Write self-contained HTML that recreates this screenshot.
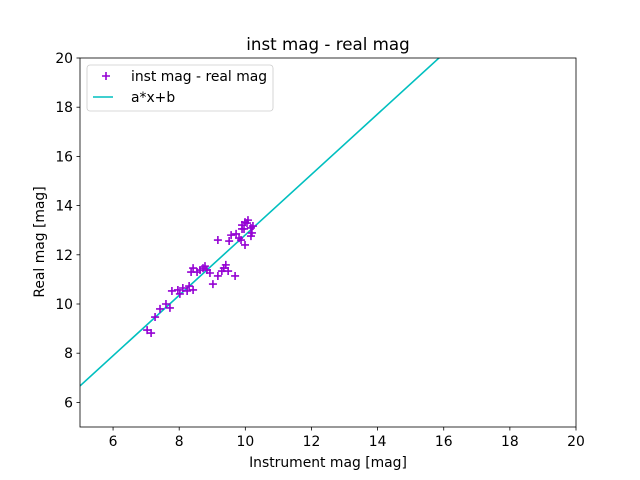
<!DOCTYPE html>
<html><head><meta charset="utf-8"><style>
body{margin:0;background:#fff;}
svg{display:block;font-family:"DejaVu Sans","Liberation Sans",sans-serif;}
</style></head><body>
<svg id="c" width="640" height="480" viewBox="0 0 640 480">
<rect width="640" height="480" fill="#fff"/>
<text x="328" y="50" text-anchor="middle" font-size="16.7">inst mag - real mag</text>
<defs><clipPath id="clip"><rect x="80" y="58" width="496" height="369"/></clipPath></defs>
<g id="marks" clip-path="url(#clip)"></g>
<g id="axes"></g>
<rect x="80" y="58" width="496" height="369" fill="none" stroke="#000" stroke-width="0.8"/>
<text x="328" y="467" text-anchor="middle" font-size="13.9">Instrument mag [mag]</text>
<text transform="translate(44,242) rotate(-90)" text-anchor="middle" font-size="13.9">Real mag [mag]</text>
<g>
<rect x="87" y="65" width="186" height="46" rx="3" fill="#fff" fill-opacity="0.8" stroke="#ccc" stroke-width="0.8"/>
<g>
<path d="M102,76h8M106,72v8" stroke="#9400d3" stroke-width="1.6"/>
<text x="131" y="81" font-size="13.9">inst mag - real mag</text></g>
<g>
<path d="M93,97h20" stroke="#00bfbf" stroke-width="1.6"/>
<text x="131" y="102" font-size="13.9">a*x+b</text></g>
</g>
</svg>
<script>
const xs=[7.03,7.15,7.27,7.42,7.60,7.72,7.78,7.96,8.02,8.11,8.24,8.30,8.42,8.36,8.42,8.54,8.63,8.72,8.78,8.93,8.84,9.02,9.17,9.29,9.35,9.41,9.48,9.69,9.17,9.51,9.57,9.72,9.81,9.87,9.90,9.90,9.96,9.99,10.05,9.99,10.08,10.17,10.23,10.20,10.17];
const ys=[8.94,8.82,9.47,9.80,10.00,9.84,10.53,10.57,10.41,10.65,10.53,10.73,10.57,11.30,11.46,11.30,11.38,11.46,11.54,11.26,11.38,10.81,11.14,11.34,11.46,11.59,11.34,11.14,12.60,12.56,12.80,12.85,12.68,12.60,13.05,13.21,13.05,13.33,13.29,12.40,13.41,13.09,13.17,12.89,12.76];
const fitA=1.228, fitB=0.53;
const xTicks=[6,8,10,12,14,16,18,20];
const yTicks=[6,8,10,12,14,16,18,20];
const NS="http://www.w3.org/2000/svg";
const X=v=>80+(v-5)*496/15, Y=v=>427-(v-5)*369/15;
const marks=document.getElementById('marks'), axes=document.getElementById('axes');
function mk(t,a,p){const e=document.createElementNS(NS,t);for(const k in a)e.setAttribute(k,a[k]);p.appendChild(e);return e;}
const line=mk('line',{x1:X(5),y1:Y(fitA*5+fitB),x2:X(20),y2:Y(fitA*20+fitB),stroke:'#00bfbf','stroke-width':1.6},marks);


xs.forEach((x,i)=>{const px=X(x),py=Y(ys[i]);
const p=mk('path',{d:`M${px-4},${py}h8M${px},${py-4}v8`,stroke:'#9400d3','stroke-width':1.6},marks);

});
xTicks.forEach(t=>{const g=mk('g',{},axes);


mk('line',{x1:X(t),x2:X(t),y1:427,y2:430.5,stroke:'#000','stroke-width':0.8},g);
const tx=mk('text',{x:X(t),y:446,'text-anchor':'middle','font-size':13.9},g);tx.textContent=t;});
yTicks.forEach(t=>{const g=mk('g',{},axes);


mk('line',{x1:76.5,x2:80,y1:Y(t),y2:Y(t),stroke:'#000','stroke-width':0.8},g);
const tx=mk('text',{x:73,y:Y(t)+5,'text-anchor':'end','font-size':13.9},g);tx.textContent=t;});
</script>
</body></html>
